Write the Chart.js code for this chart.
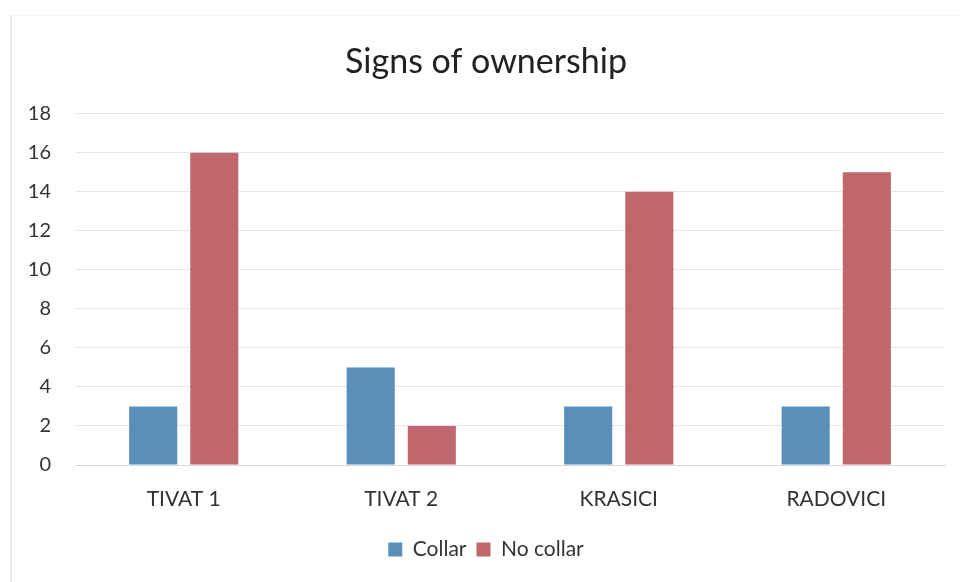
<!DOCTYPE html>
<html lang="en">
<head>
  <meta charset="utf-8">
  <title>Signs of ownership</title>
  <style>
    html, body { margin: 0; padding: 0; background: #fff; }
    #wrap { position: absolute; left: 0; top: 0; width: 960px; height: 582px; }
    #frame { position: absolute; left: 10px; top: 15px; width: 950px; height: 567px;
             border-left: 2px solid #ececec; border-top: 1px solid #f4f4f4; }
  </style>
</head>
<body>
<div id="frame"></div>
<div id="wrap"><canvas id="chartCanvas" width="960" height="582"></canvas></div>
<script src="https://cdn.jsdelivr.net/npm/chart.js"></script>
<script>
   const categories = ['TIVAT 1', 'TIVAT 2', 'KRASICI', 'RADOVICI'];
   const collar = [3, 5, 3, 3];
   const noCollar = [16, 2, 14, 15];
   const yTicks = [0, 2, 4, 6, 8, 10, 12, 14, 16, 18];

   const fontFamily = 'Lato, "Open Sans", sans-serif';

   new Chart(document.getElementById('chartCanvas'), {
     type: 'bar',
     data: {
       labels: categories,
       datasets: [
         { label: 'Collar', data: collar, backgroundColor: '#5a8fba',
           barPercentage: 0.787, categoryPercentage: 0.562 },
         { label: 'No collar', data: noCollar, backgroundColor: '#c0676e',
           barPercentage: 0.787, categoryPercentage: 0.562 },
       ]
     },
     options: {
       responsive: false,
       animation: false,
       // extra left padding pushes title/legend centre right a bit, like the original
       layout: { padding: { left: 27, right: 15, top: 30, bottom: 12 } },
       plugins: {
         title: {
           display: true,
           text: 'Signs of ownership',
           color: '#222',
           font: { family: fontFamily, size: 34, weight: 'normal' },
           padding: { top: 12, bottom: 31 }
         },
         legend: {
           position: 'bottom',
           labels: {
             color: '#333',
             font: { family: fontFamily, size: 21 },
             boxWidth: 14, boxHeight: 14, padding: 10
           }
         },
         tooltip: { enabled: false }
       },
       scales: {
         x: {
           grid: { display: false },
           border: { color: '#d9d9d9' },
           afterFit: function(axis) { axis.height = 64; },
           ticks: { color: '#333', font: { family: fontFamily, size: 21 }, padding: 14 }
         },
         y: {
           min: 0, max: 18,
           afterBuildTicks: function(axis) { axis.ticks = yTicks.map(v => ({ value: v })); },
           afterFit: function(axis) { axis.width = 48; },
           grid: { color: '#e6e6e6', drawTicks: false },
           border: { display: false },
           ticks: { color: '#333', font: { family: fontFamily, size: 20 }, padding: 24 }
         }
       }
     }
   });
</script>
</body>
</html>
